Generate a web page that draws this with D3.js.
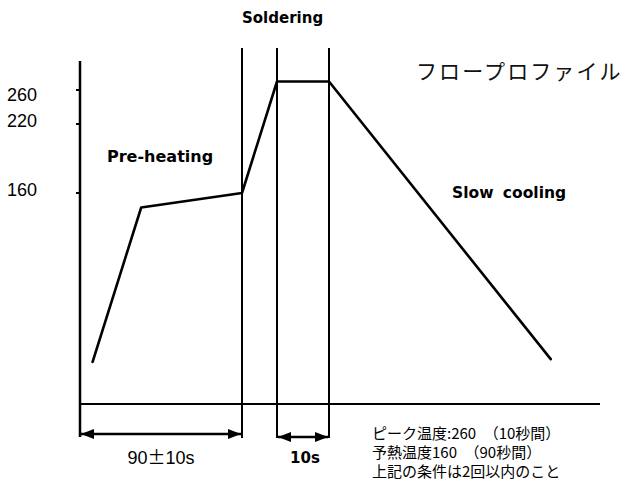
<!DOCTYPE html>
<html>
<head>
<meta charset="utf-8">
<script src="https://cdn.jsdelivr.net/npm/d3@7"></script>
<style>
  body { margin: 0; background: #fff; }
  svg { display: block; }
</style>
</head>
<body>
<svg></svg>
<script>
const width = 627;
const height = 486;

// profile (time in s, temperature in deg C)
const profileTime = [7, 34, 90, 100, 110, 200];
const profileTemp = [32, 149, 160, 270, 270, 34];
// zone boundaries
const zoneTimes = [90, 100, 110];
// temperature ticks
const tempTicks = [160, 220, 260];
// span arrows
const spans = [[0, 90], [100, 110]];
const spanLabels = ["90±10s", "10s"];
const notes = ["ピーク温度:260　（10秒間）", "予熱温度160　（90秒間）", "上記の条件は2回以内のこと"];

var svg = d3.select("svg")
  .attr("width", width)
  .attr("height", height);

// not-to-scale diagram: piecewise scales
const x = d3.scaleLinear()
  .domain([0, 90, 100, 110, 220])
  .range([80, 242, 277, 329, 600]);
const y = d3.scaleLinear()
  .domain([0, 160, 220, 260])
  .range([404, 193, 124, 90]);

// arrowhead
svg.append("defs").append("marker")
  .attr("id", "ah")
  .attr("viewBox", "0 0 13 10")
  .attr("refX", 13).attr("refY", 5)
  .attr("markerWidth", 13).attr("markerHeight", 10)
  .attr("markerUnits", "userSpaceOnUse")
  .attr("orient", "auto-start-reverse")
  .append("path")
  .attr("d", "M0,0 L13,5 L0,10 Z")
  .attr("fill", "#000");

// baseline
svg.append("line")
  .attr("x1", x(0)).attr("x2", x(220))
  .attr("y1", y(0)).attr("y2", y(0))
  .attr("stroke", "#000").attr("stroke-width", 2);

// y axis
svg.append("line")
  .attr("x1", x(0)).attr("x2", x(0))
  .attr("y1", 61).attr("y2", 437)
  .attr("stroke", "#000").attr("stroke-width", 2.5);

// ticks
svg.selectAll(".tick")
  .data(tempTicks)
  .enter().append("line")
  .attr("x1", x(0) - 4).attr("x2", x(0))
  .attr("y1", d => y(d)).attr("y2", d => y(d))
  .attr("stroke", "#000").attr("stroke-width", 2);

svg.selectAll(".tlabel")
  .data(tempTicks)
  .enter().append("text")
  .attr("x", 7)
  .attr("y", d => y(d) + (d === 260 ? 5 : -3))
  .attr("dy", "0.35em")
  .attr("font-family", "'Liberation Sans', Arial, sans-serif")
  .attr("font-size", 18)
  .text(d => d);

// zone boundary lines
svg.selectAll(".zone")
  .data(zoneTimes)
  .enter().append("line")
  .attr("x1", d => x(d)).attr("x2", d => x(d))
  .attr("y1", 48).attr("y2", 438)
  .attr("stroke", "#000").attr("stroke-width", 2);

// profile
const line = d3.line()
  .x(d => x(d[0]))
  .y(d => y(d[1]));

svg.append("path")
  .datum(d3.zip(profileTime, profileTemp))
  .attr("d", line)
  .attr("fill", "none")
  .attr("stroke", "#000")
  .attr("stroke-width", 2.6)
  .attr("stroke-linejoin", "round")
  .attr("stroke-linecap", "round");

// span arrows
svg.selectAll(".span")
  .data(spans)
  .enter().append("line")
  .attr("x1", d => x(d[0]) + 1).attr("x2", d => x(d[1]) - 1)
  .attr("y1", (d, i) => i ? 437 : 434).attr("y2", (d, i) => i ? 437 : 434)
  .attr("stroke", "#000").attr("stroke-width", 2.5)
  .attr("marker-start", "url(#ah)")
  .attr("marker-end", "url(#ah)");

svg.append("text")
  .attr("x", (x(spans[0][0]) + x(spans[0][1])) / 2)
  .attr("y", 458).attr("dy", "0.35em")
  .attr("text-anchor", "middle")
  .attr("font-family", "'Liberation Sans', Arial, sans-serif")
  .attr("font-size", 18)
  .call(t => {
    t.append("tspan").text(spanLabels[0].slice(0, 2));
    t.append("tspan").attr("font-family", "'Noto Sans CJK JP'").text("±");
    t.append("tspan").text(spanLabels[0].slice(3));
  });

svg.append("text")
  .attr("x", (x(spans[1][0]) + x(spans[1][1])) / 2 + 2)
  .attr("y", 458).attr("dy", "0.35em")
  .attr("text-anchor", "middle")
  .attr("font-family", "'DejaVu Sans', sans-serif")
  .attr("font-weight", "bold")
  .attr("font-size", 15)
  .text(spanLabels[1]);

// zone labels
const bold = (tx, ty, s, size) => svg.append("text")
  .attr("x", tx).attr("y", ty).attr("dy", "0.35em")
  .attr("font-family", "'DejaVu Sans', sans-serif")
  .attr("font-weight", "bold")
  .attr("font-size", size)
  .attr("word-spacing", 4)
  .text(s);

bold(242, 18, "Soldering", 15);
bold(107, 156, "Pre-heating", 16);
bold(452, 193, "Slow cooling", 15.5);

// title
svg.append("text")
  .attr("x", 416).attr("y", 72).attr("dy", "0.35em")
  .attr("font-family", "'Noto Sans CJK JP'")
  .attr("font-size", 21)
  .attr("letter-spacing", 2.1)
  .attr("fill", "#111")
  .text("フロープロファイル");

// notes
svg.selectAll(".note")
  .data(notes)
  .enter().append("text")
  .attr("x", 372)
  .attr("y", (d, i) => 434 + i * 19)
  .attr("dy", "0.35em")
  .attr("font-family", "'Noto Sans CJK JP'")
  .attr("font-size", 15)
  .text(d => d);
</script>
</body>
</html>
